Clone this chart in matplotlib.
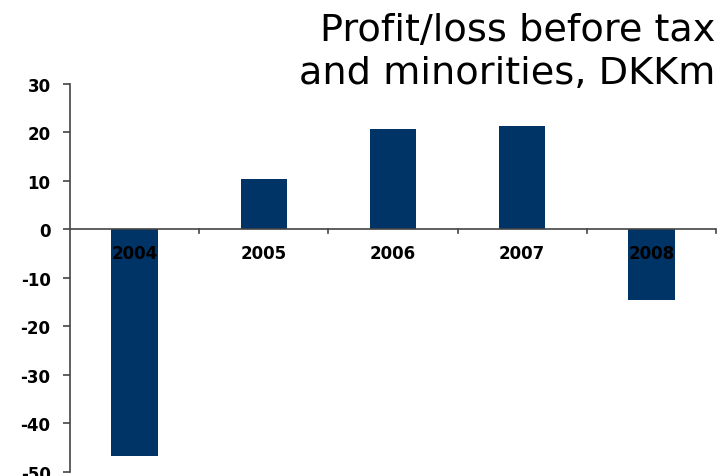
import numpy as np
import matplotlib.pyplot as plt

# Resultat før skat og minoriteter
years = ['2004', '2005', '2006', '2007', '2008']
profit = [-46.7, 10.4, 20.6, 21.2, -14.6]
yticks = [30, 20, 10, 0, -10, -20, -30, -40, -50]

fig = plt.figure(figsize=(7.2, 4.77), dpi=100)
ax = fig.add_axes([0.0972, 0.009, 0.8972, 0.8135])

x = np.arange(len(years))
ax.bar(x, profit, width=0.36, color='#003366', zorder=2)

ax.set_xlim(-0.5, len(years) - 0.5)
ax.set_ylim(-50, 30)

# y-axis on the left, category axis along zero
for s in ['top', 'right', 'bottom']:
    ax.spines[s].set_visible(False)
ax.spines['left'].set_color('#444444')
ax.spines['left'].set_linewidth(1.2)
ax.axhline(0, color='#444444', linewidth=1.2, zorder=3)

ax.set_yticks(yticks)
ax.set_yticklabels([str(v) for v in yticks], fontsize=12, fontweight='bold')
ax.tick_params(axis='y', length=5, width=1.2, color='#444444', pad=9)

# category boundaries as ticks on the zero line
ax.set_xticks([])
for b in np.arange(0.5, len(years), 1.0):
    ax.plot([b, b], [0, -0.8], color='#444444', linewidth=1.2, zorder=3, clip_on=False)
for xi, lab in zip(x, years):
    ax.text(xi, -5, lab, ha='center', va='center', fontsize=12,
            fontweight='bold', color='black', zorder=4)

fig.text(0.994, 0.972, 'Profit/loss before tax\nand minorities, DKKm',
         ha='right', va='top', fontsize=27.5, linespacing=1.25)

fig.savefig('out.png', dpi=100)
